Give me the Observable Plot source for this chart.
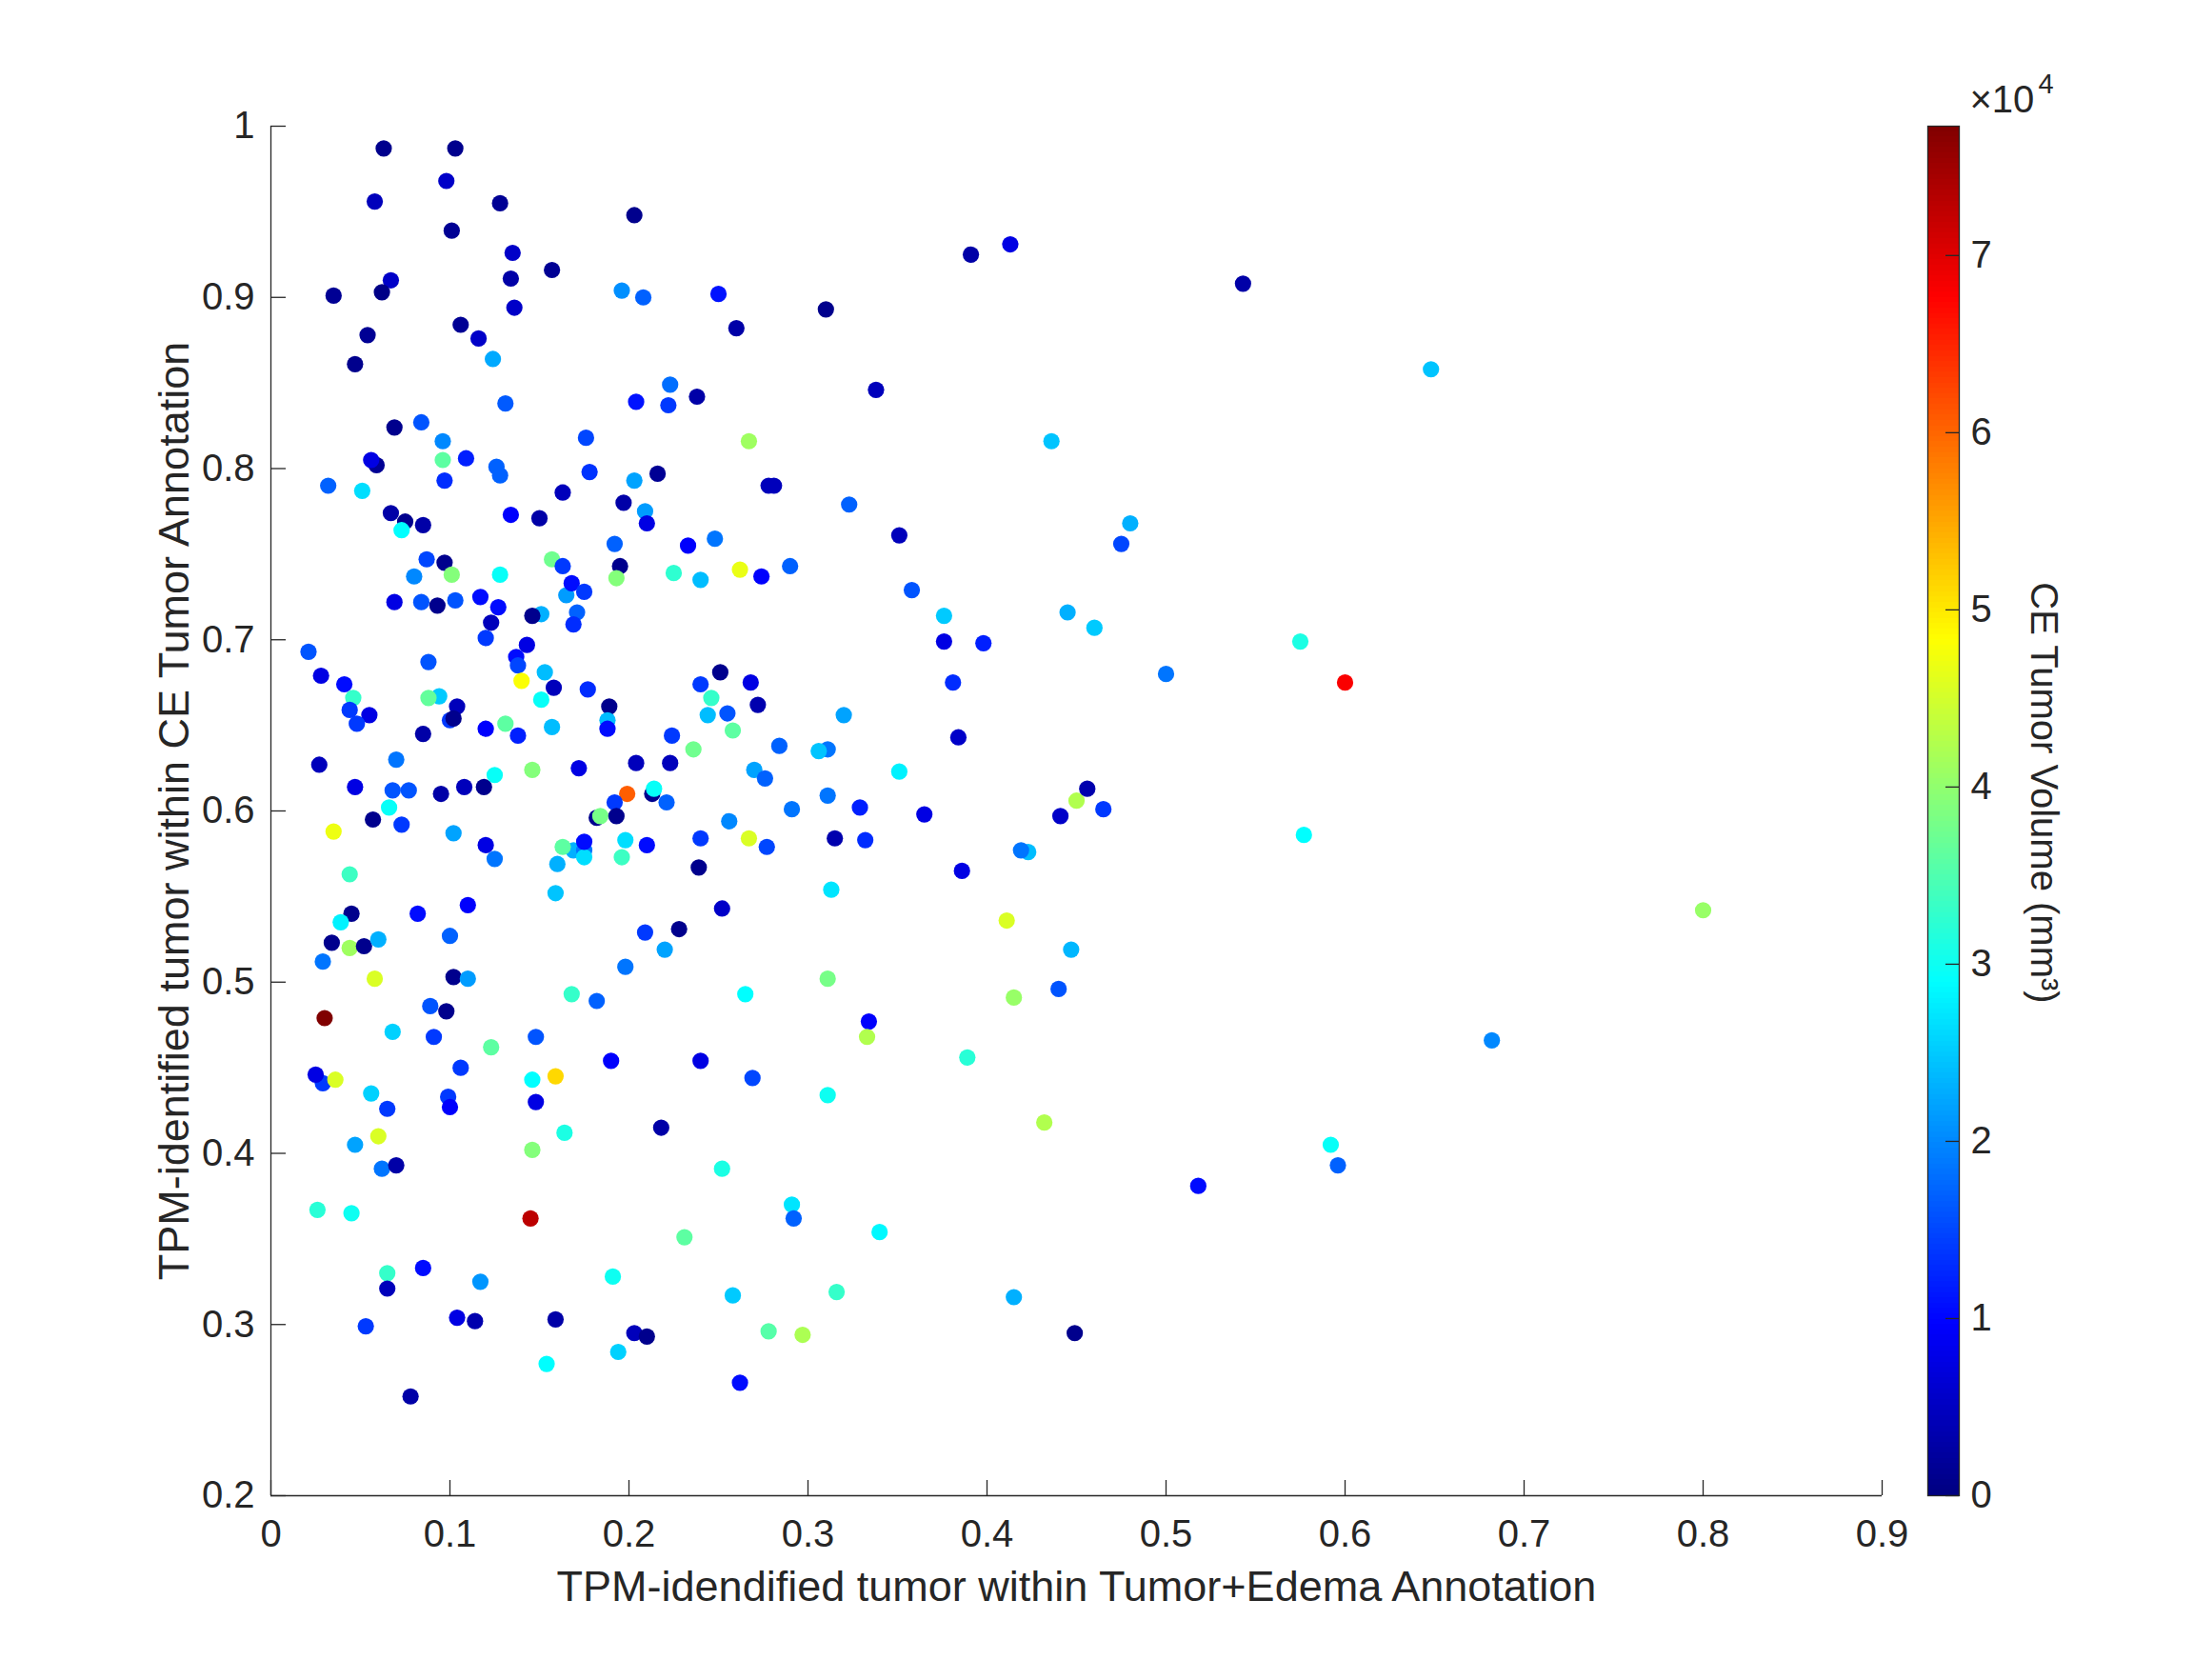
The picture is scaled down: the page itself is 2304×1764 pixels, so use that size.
<!DOCTYPE html>
<html><head><meta charset="utf-8">
<script src="https://cdn.jsdelivr.net/npm/d3@7"></script>
<script src="https://cdn.jsdelivr.net/npm/@observablehq/plot@0.6"></script>
<style>
html,body{margin:0;padding:0;background:#fff;}
#chart{position:relative;width:2304px;height:1764px;}
#chart svg{position:absolute;left:0;top:0;max-width:none;}
</style></head><body><div id="chart"></div>
<script>
// TPM-identified tumor within Tumor+Edema annotation (x)
const xs = [0.063,0.103,0.098,0.058,0.128,0.203,0.101,0.135,0.157,0.067,0.134,0.035,0.062,0.196,0.208,0.250,0.136,0.260,0.106,0.116,
0.054,0.124,0.047,0.223,0.238,0.204,0.222,0.131,0.069,0.084,0.176,0.096,0.096,0.109,0.059,0.056,0.126,0.128,0.178,0.203,
0.216,0.032,0.051,0.097,0.163,0.197,0.067,0.075,0.073,0.085,0.134,0.150,0.209,0.210,0.192,0.233,0.248,0.087,0.097,0.157,
0.163,0.195,0.080,0.101,0.128,0.193,0.225,0.240,0.069,0.084,0.093,0.103,0.117,0.127,0.123,0.120,0.151,0.146,0.165,0.168,
0.175,0.171,0.169,0.021,0.088,0.143,0.137,0.138,0.028,0.041,0.046,0.044,0.055,0.048,0.094,0.088,0.104,0.100,0.102,0.085,
0.120,0.131,0.138,0.140,0.153,0.158,0.151,0.157,0.177,0.189,0.188,0.188,0.224,0.236,0.240,0.251,0.246,0.244,0.255,0.258,
0.027,0.070,0.047,0.068,0.077,0.095,0.108,0.119,0.125,0.146,0.172,0.204,0.223,0.199,0.213,0.214,0.192,0.221,0.182,0.184,
0.193,0.256,0.035,0.057,0.066,0.073,0.102,0.120,0.125,0.169,0.163,0.175,0.175,0.175,0.198,0.196,0.210,0.240,0.239,0.160,
0.044,0.159,0.045,0.039,0.082,0.110,0.252,0.034,0.044,0.052,0.060,0.029,0.100,0.209,0.228,0.220,0.198,0.058,0.102,0.110,
0.168,0.182,0.089,0.098,0.030,0.068,0.091,0.123,0.148,0.106,0.190,0.240,0.029,0.025,0.036,0.146,0.159,0.056,0.065,0.099,
0.100,0.148,0.164,0.218,0.060,0.047,0.146,0.062,0.070,0.252,0.026,0.045,0.145,0.231,0.065,0.065,0.085,0.117,0.191,0.258,
0.053,0.104,0.114,0.159,0.203,0.210,0.194,0.154,0.078,0.334,0.333,0.389,0.269,0.311,0.432,0.518,0.291,0.292,0.340,0.316,
0.415,0.278,0.297,0.449,0.262,0.262,0.274,0.290,0.358,0.376,0.445,0.460,0.376,0.398,0.500,0.268,0.272,0.320,0.381,0.384,
0.284,0.311,0.306,0.270,0.276,0.351,0.311,0.291,0.329,0.365,0.450,0.456,0.441,0.465,0.267,0.277,0.315,0.332,0.423,0.419,
0.386,0.313,0.411,0.447,0.311,0.415,0.440,0.265,0.391,0.413,0.310,0.338,0.267,0.436,0.278,0.281,0.323,0.351,0.480,0.475,
0.543,0.648,0.575,0.600,0.577,0.800,0.682,0.592,0.596];

// TPM-identified tumor within CE tumor annotation (y)
const ys = [0.987,0.987,0.968,0.956,0.955,0.948,0.939,0.926,0.916,0.910,0.911,0.901,0.903,0.904,0.900,0.902,0.894,0.882,0.884,0.876,
0.878,0.864,0.861,0.849,0.842,0.839,0.837,0.838,0.824,0.827,0.818,0.816,0.805,0.806,0.802,0.805,0.801,0.796,0.798,0.793,
0.797,0.790,0.787,0.793,0.786,0.780,0.774,0.769,0.764,0.767,0.773,0.771,0.775,0.768,0.756,0.755,0.759,0.747,0.745,0.747,
0.743,0.743,0.737,0.738,0.738,0.736,0.739,0.735,0.722,0.722,0.720,0.723,0.725,0.719,0.710,0.701,0.715,0.714,0.726,0.733,
0.728,0.716,0.709,0.693,0.687,0.697,0.690,0.685,0.679,0.674,0.666,0.659,0.656,0.651,0.667,0.666,0.661,0.653,0.654,0.645,
0.648,0.651,0.644,0.676,0.681,0.672,0.665,0.649,0.671,0.661,0.653,0.648,0.644,0.636,0.674,0.681,0.666,0.656,0.657,0.647,
0.627,0.630,0.614,0.612,0.612,0.610,0.614,0.614,0.621,0.624,0.625,0.628,0.628,0.610,0.610,0.613,0.605,0.605,0.596,0.597,
0.597,0.594,0.588,0.595,0.602,0.592,0.587,0.580,0.572,0.577,0.579,0.577,0.573,0.582,0.583,0.573,0.580,0.584,0.567,0.569,
0.563,0.552,0.540,0.535,0.540,0.545,0.543,0.523,0.520,0.521,0.525,0.512,0.527,0.529,0.531,0.519,0.509,0.502,0.503,0.502,
0.493,0.489,0.486,0.483,0.479,0.471,0.468,0.462,0.468,0.450,0.454,0.454,0.441,0.446,0.443,0.443,0.445,0.435,0.426,0.433,
0.427,0.430,0.412,0.415,0.410,0.405,0.402,0.391,0.393,0.391,0.367,0.365,0.362,0.351,0.330,0.321,0.333,0.325,0.328,0.317,
0.299,0.304,0.302,0.303,0.295,0.293,0.284,0.277,0.258,0.477,0.468,0.456,0.444,0.434,0.418,0.381,0.370,0.362,0.354,0.319,
0.316,0.296,0.294,0.295,0.266,0.741,0.737,0.743,0.729,0.714,0.716,0.707,0.699,0.698,0.680,0.675,0.662,0.656,0.675,0.643,
0.638,0.636,0.635,0.624,0.619,0.623,0.609,0.601,0.602,0.598,0.606,0.613,0.597,0.601,0.584,0.579,0.584,0.583,0.576,0.577,
0.565,0.554,0.536,0.519,0.502,0.491,0.496,0.493,0.925,0.931,0.893,0.846,0.816,0.816,0.790,0.790,0.779,0.761,0.768,0.756,
0.908,0.858,0.699,0.675,0.586,0.542,0.466,0.405,0.393];

// CE tumor volume (mm^3)
const vols = [1000,1000,5500,4500,1500,1000,1500,5500,1500,5500,3000,1500,500,20500,17000,11000,5500,3000,1500,5500,
1500,22500,1000,18000,3000,11000,14000,16500,1000,16000,15000,20000,36000,12000,1500,7500,17000,17000,13500,22000,
1500,17000,26500,13000,4500,3000,3000,1000,29000,3000,9500,3000,21500,7500,17000,9500,18500,15000,1000,37500,
14000,1000,20000,39000,29500,39000,32500,24000,7500,16000,1000,16000,10500,10500,4500,14000,23000,1000,21500,10500,
14000,17000,13000,16000,16000,7500,10500,15000,7500,10500,33000,14000,7500,14000,25000,36500,4500,14000,1000,3000,
9500,36000,12000,48000,24000,4500,29500,24000,13000,1000,24000,10500,14000,37500,14000,1000,33000,24000,16000,36000,
4500,18500,7500,16000,16000,3000,4500,1000,29500,39000,7500,4500,4500,60500,1000,29500,14000,17000,1000,38000,
1000,20000,47000,1000,29500,14000,22000,7500,18500,23000,36000,18500,26500,10500,26500,33500,10500,14000,1000,23000,
33500,24500,1000,28000,10500,9500,5500,1000,41000,1000,23000,18500,17000,14000,1000,22000,18500,45500,1000,21500,
33000,17000,16000,1000,77300,25500,14000,36000,16000,14000,9500,7500,14000,7500,45500,29000,51300,25500,14000,14000,
9500,7500,31000,3000,45500,22000,39000,18500,3000,31000,32000,30000,72700,36000,33000,4500,10500,21000,30000,25000,
14000,7500,3500,3000,4500,1000,25500,29000,3000,9500,42400,32000,15000,30000,42400,10500,27000,17000,28500,33000,
23000,35500,42000,1000,10500,46700,9500,17000,16000,25000,23000,25000,7500,12000,18500,7500,3500,22000,13000,5500,
17000,18500,24500,22000,17000,28000,18500,18500,12000,7500,42400,3500,5500,14000,45500,15000,3500,13000,24000,18500,
7500,27000,45500,23500,38000,40500,16000,29000,3000,7500,1000,4500,41000,24500,4500,4500,17000,4500,23000,15000,
3000,24500,31000,68000,29000,40500,20000,29500,17000];

const xTicks = [0, 0.1, 0.2, 0.3, 0.4, 0.5, 0.6, 0.7, 0.8, 0.9];
const yTicks = [0.2, 0.3, 0.4, 0.5, 0.6, 0.7, 0.8, 0.9, 1];
const cbTicks = [0, 10000, 20000, 30000, 40000, 50000, 60000, 70000];
const volMax = 77300;
const xLabel = "TPM-idendified tumor within Tumor+Edema Annotation";
const yLabel = "TPM-identified tumor within CE Tumor Annotation";
const cbLabel = "CE Tumor Volume (mm³)";
const jetStops = [0, 0.125, 0.375, 0.625, 0.875, 1];
const jetColors = ["#000080", "#0000ff", "#00ffff", "#ffff00", "#ff0000", "#800000"];

const ink = "#262626";
const font = "'Liberation Sans', Arial, Helvetica, sans-serif";
const jet = {type: "linear", domain: jetStops.map(t => t * volMax), range: jetColors, interpolate: "rgb", clamp: true};

const points = xs.map((x, i) => ({x, y: ys[i], vol: vols[i]}));

const W = 2304, H = 1764;
const mL = 284, mR = 328, mT = 132, mB = 194;
const frameW = W - mL - mR, frameH = H - mT - mB;
const tickLen = 16;

const main = Plot.plot({
  width: W, height: H,
  marginLeft: mL, marginRight: mR, marginTop: mT, marginBottom: mB,
  style: {fontFamily: font, fontSize: "40px", color: ink, background: "white", maxWidth: "none"},
  x: {domain: [0, 0.9]},
  y: {domain: [0.2, 1]},
  color: jet,
  marks: [
    Plot.dot(points, {x: "x", y: "y", fill: "vol", r: 8.6}),
    Plot.ruleX([0], {stroke: ink, strokeWidth: 1.3}),
    Plot.ruleY([0.2], {stroke: ink, strokeWidth: 1.3}),
    Plot.tickX(xTicks, {x: d => d, insetTop: frameH - tickLen, stroke: ink, strokeWidth: 1.3}),
    Plot.tickY(yTicks, {y: d => d, insetRight: frameW - tickLen, stroke: ink, strokeWidth: 1.3}),
    Plot.axisX({ticks: xTicks, tickSize: 0, tickPadding: 25, tickFormat: d => String(d), fontSize: 40, fill: ink, label: null}),
    Plot.axisY({ticks: yTicks, tickSize: 0, tickPadding: 17, tickFormat: d => String(d), fontSize: 40, fill: ink, label: null}),
    Plot.text([xLabel], {text: d => d, frameAnchor: "bottom", dy: 110, textAnchor: "middle", lineAnchor: "bottom", fontSize: 45, fill: ink}),
    Plot.text([yLabel], {text: d => d, frameAnchor: "left", dx: -87, rotate: -90, textAnchor: "middle", lineAnchor: "bottom", fontSize: 45, fill: ink})
  ]
});

const levels = d3.range(256).map(i => ({lo: i * volMax / 256, hi: (i + 1) * volMax / 256}));
const cbL = 2024, cbR = 2057;
const colorbar = Plot.plot({
  width: W, height: H,
  marginLeft: cbL, marginRight: W - cbR, marginTop: mT, marginBottom: mB,
  style: {fontFamily: font, fontSize: "40px", color: ink, background: "transparent", maxWidth: "none"},
  x: {domain: [0, 1], axis: null},
  y: {domain: [0, volMax], axis: null},
  color: jet,
  marks: [
    Plot.rect(levels, {x1: 0, x2: 1, y1: "lo", y2: "hi", fill: d => (d.lo + d.hi) / 2, shapeRendering: "crispEdges"}),
    Plot.frame({stroke: ink, strokeWidth: 1.3}),
    Plot.tickY(cbTicks, {y: d => d, insetLeft: (cbR - cbL) - 14, stroke: ink, strokeWidth: 1.3}),
    Plot.axisY({anchor: "right", ticks: cbTicks, tickSize: 0, tickPadding: 12, tickFormat: d => String(d / 1e4), fontSize: 40, fill: ink, label: null}),
    Plot.text(["×10"], {text: d => d, frameAnchor: "top-left", dx: 44, dy: -15, textAnchor: "start", lineAnchor: "bottom", fontSize: 40, fill: ink}),
    Plot.text(["4"], {text: d => d, frameAnchor: "top-left", dx: 116, dy: -35, textAnchor: "start", lineAnchor: "bottom", fontSize: 29, fill: ink}),
    Plot.text([cbLabel], {text: d => d, frameAnchor: "right", dx: 75, dy: -19, rotate: 90, textAnchor: "middle", lineAnchor: "bottom", fontSize: 40, fill: ink})
  ]
});

const chart = document.getElementById("chart");
chart.appendChild(main);
chart.appendChild(colorbar);
</script>
</body></html>
